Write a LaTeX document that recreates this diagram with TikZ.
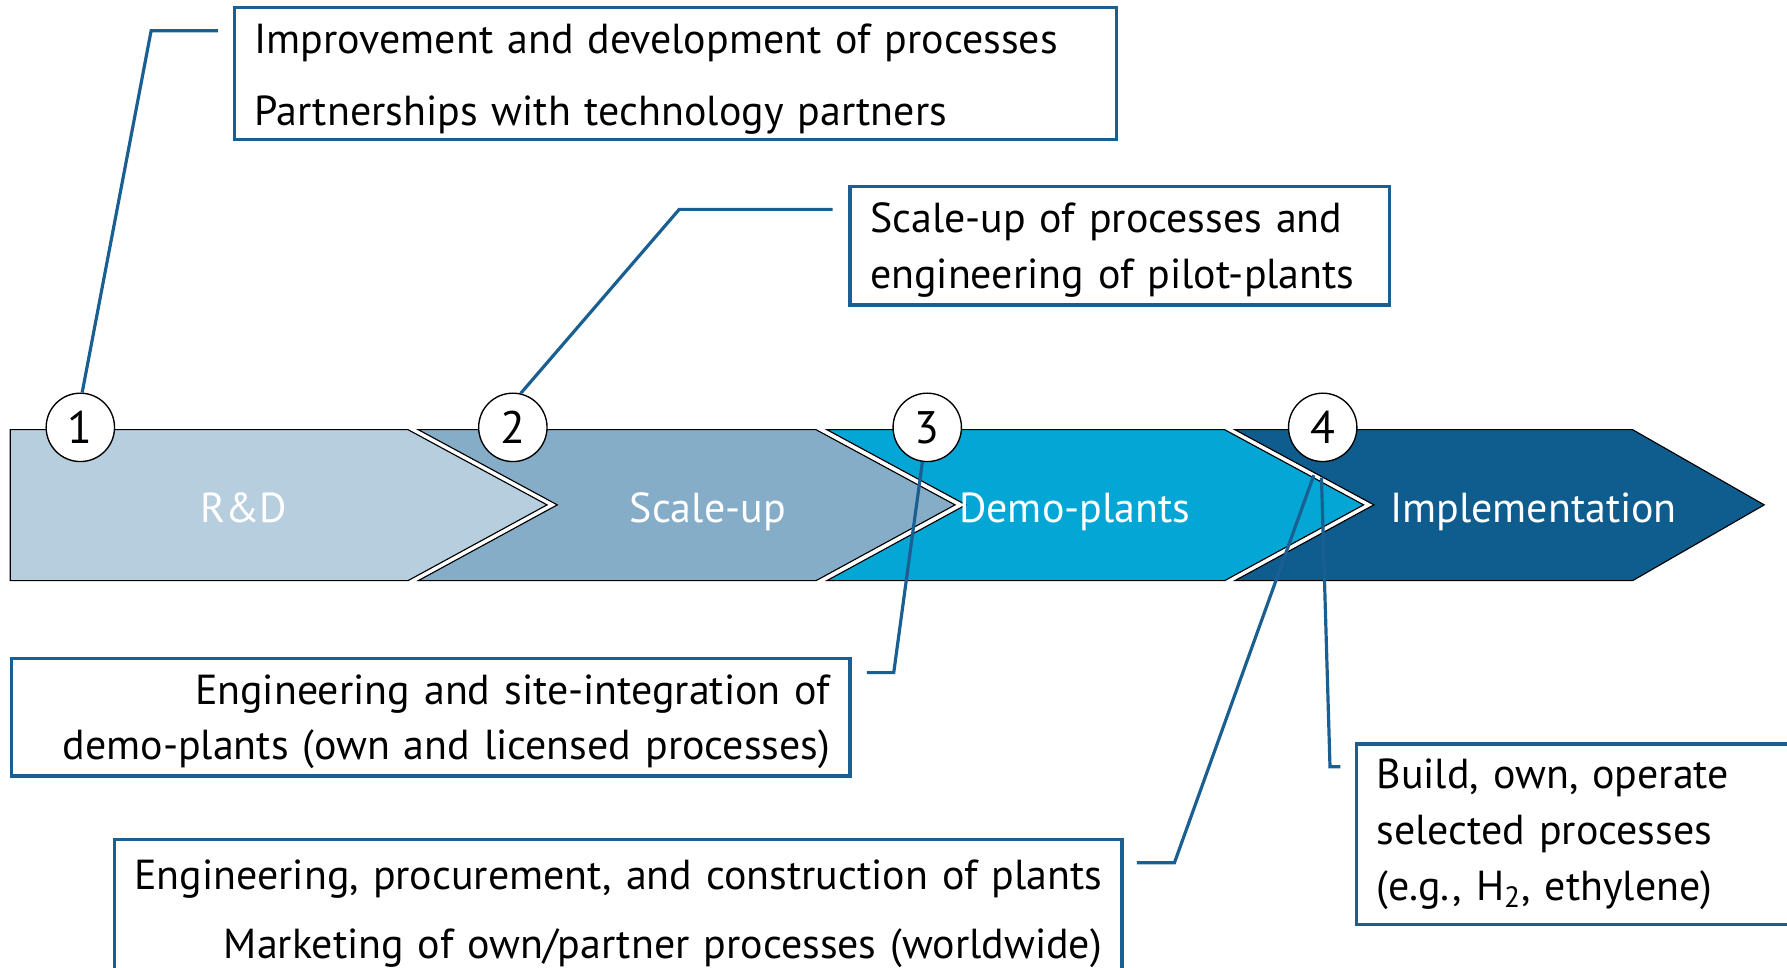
\documentclass[tikz,border=0pt]{standalone}
\usepackage{fontspec}
\setmainfont{PT Sans}
\usepackage{tikz}
\definecolor{rdblue}{HTML}{B7CEDF}
\definecolor{scaleblue}{HTML}{86ADC8}
\definecolor{demoblue}{HTML}{04A6D6}
\definecolor{implblue}{HTML}{0F5C8E}
\definecolor{leadblue}{HTML}{1A5F92}
\newcommand{\txtfont}{\fontsize{18.4pt}{24.5pt}\selectfont}
\newcommand{\numfont}{\fontsize{20pt}{24pt}\selectfont}
\tikzset{
    %Define style for the stage arrows
    stage/.style={
           draw=black,
           line width=0.5pt},
    stagelabel/.style={
           text=white,
           font=\txtfont,
           anchor=base},
    %Define style for the numbered circles
    numcircle/.style={
           circle,
           draw=black,
           fill=white,
           line width=0.6pt,
           minimum size=30pt,
           inner sep=0pt,
           font=\numfont},
    %Define style for boxes
    infobox/.style={
           rectangle,
           draw=leadblue, line width=1.4pt,
           fill=white,
           anchor=north west,
           inner xsep=8.75pt,
           inner ysep=0pt,
           font=\txtfont},
    % Define leader line style
    leader/.style={
           draw=leadblue,
           line width=1.4pt}
}

\begin{document}
\begin{tikzpicture}[x=0.5pt,y=-0.5pt]
\useasboundingbox (0,0) rectangle (1568,849);
\clip (0,0) rectangle (1568,849);

 %stages
\filldraw[stage, fill=rdblue] (9,377) -- (358,377) -- (480,443) -- (358,509.5) -- (9,509.5) -- cycle;
\filldraw[stage, fill=scaleblue] (367,377) -- (716,377) -- (838,443) -- (716,509.5) -- (367,509.5) -- (489,443) -- cycle;
\filldraw[stage, fill=demoblue] (725.5,377) -- (1074.5,377) -- (1196.5,443) -- (1074.5,509.5) -- (725.5,509.5) -- (847.5,443) -- cycle;
\filldraw[stage, fill=implblue] (1083.5,377) -- (1432.5,377) -- (1548,443) -- (1432.5,509.5) -- (1083.5,509.5) -- (1205.5,443) -- cycle;

\node[stagelabel] (rd) at (214,458.6) {R\&D};
\node[stagelabel] (scale) at (621,458.6) {Scale-up};
\node[stagelabel] (demo) at (943,458.6) {Demo-plants};
\node[stagelabel] (impl) at (1345.6,458.6) {Implementation};

 %numbers
\node[numcircle] (n1) at (70.5,375) {1};
\node[numcircle] (n2) at (450,375) {2};
\node[numcircle] (n3) at (813.6,375) {3};
\node[numcircle] (n4) at (1160.6,375) {4};

 %boxes
\node[infobox, minimum width=386.75pt, minimum height=58pt, text width=369.25pt, text height=17.5pt, align=left] (box1) at (204.5,5.3)
    {Improvement and development of processes\\[7pt]Partnerships with technology partners};
\node[infobox, minimum width=236.75pt, minimum height=52pt, text width=219.25pt, text height=17pt, align=left] (box2) at (744.5,162.3)
    {Scale-up of processes and\\engineering of pilot-plants};
\node[infobox, minimum width=367.75pt, minimum height=51.5pt, text width=350.25pt, text height=17pt, align=right] (box3) at (9,576.5)
    {Engineering and site-integration of\\demo-plants (own and licensed processes)};
\node[infobox, minimum width=442pt, minimum height=61pt, text width=424.5pt, text height=17pt, align=right] (box4) at (99,735.5)
    {Engineering, procurement, and construction of plants\\[6pt]Marketing of own/partner processes (worldwide)};
\node[infobox, minimum width=215pt, minimum height=79pt, text width=197.5pt, align=left] (box5) at (1189,651.5)
    {Build, own, operate\\selected processes\\(e.g., H\textsubscript{2}, ethylene)};

 %leaders
\coordinate (k1) at (132.6,27);
\coordinate (e1) at (191.5,27);
\coordinate (k2) at (596,183.7);
\coordinate (e2) at (730.5,183.7);
\coordinate (k3) at (784.2,590.2);
\coordinate (e3) at (760.6,590.2);
\coordinate (s4a) at (1152.8,417);
\coordinate (k4a) at (1030.5,757);
\coordinate (e4a) at (997.6,757);
\coordinate (s4b) at (1159.5,419);
\coordinate (k4b) at (1167,672.7);
\coordinate (e4b) at (1176,672.7);

\draw[leader] (n1.87) -- (k1) -- (e1);
\draw[leader] (n2.77) -- (k2) -- (e2);
\draw[leader] (n3.262) -- (k3) -- (e3);
\draw[leader] (s4a) -- (k4a) -- (e4a);
\draw[leader] (s4b) -- (k4b) -- (e4b);

\end{tikzpicture}
\end{document}
